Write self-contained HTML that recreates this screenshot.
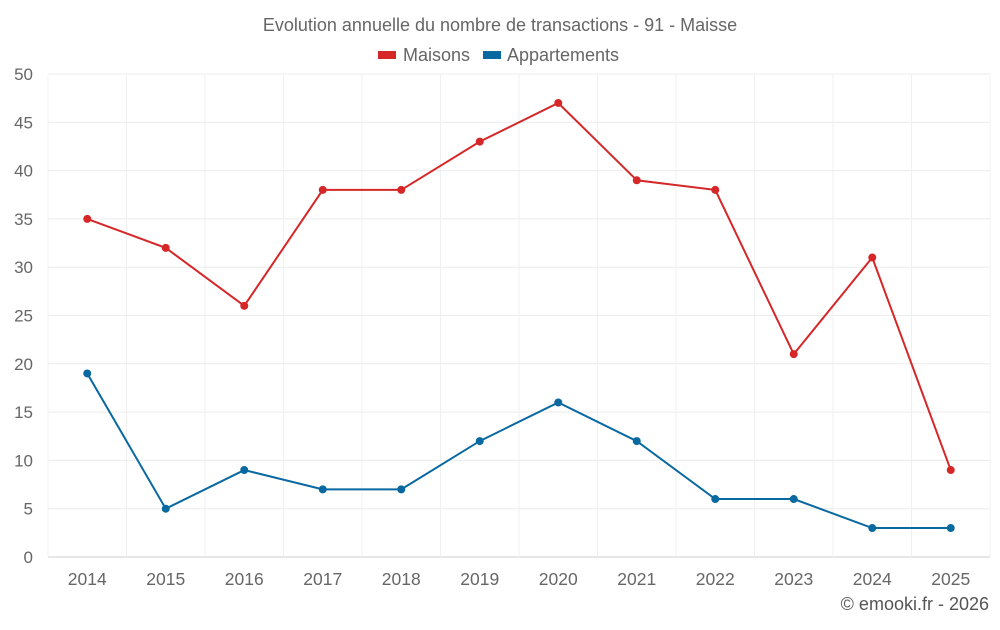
<!DOCTYPE html>
<html><head><meta charset="utf-8"><style>
body{margin:0;background:#fff;font-family:"Liberation Sans",sans-serif;}
svg text{font-family:"Liberation Sans",sans-serif;}
</style></head><body>
<svg id="chart" width="1000" height="625" xmlns="http://www.w3.org/2000/svg">
<text x="500" y="31" text-anchor="middle" font-size="18" fill="#666">Evolution annuelle du nombre de transactions - 91 - Maisse</text>
<g>
<g><rect x="378" y="51" width="18" height="8" fill="#d62728"/><text x="403" y="61" font-size="18" fill="#666">Maisons</text></g>
<g><rect x="483" y="51" width="18" height="8" fill="#0868a0"/><text x="507" y="61" font-size="18" fill="#666">Appartements</text></g>
</g>
<g id="grid"></g>
<g id="axes"></g>
<g id="series"></g>
<text x="989" y="610" text-anchor="end" font-size="18" fill="#555">© emooki.fr - 2026</text>
</svg>
<script>
const categories=["2014","2015","2016","2017","2018","2019","2020","2021","2022","2023","2024","2025"];
const maisons=[35,32,26,38,38,43,47,39,38,21,31,9];
const appartements=[19,5,9,7,7,12,16,12,6,6,3,3];
const yTicks=[0,5,10,15,20,25,30,35,40,45,50];
const NS="http://www.w3.org/2000/svg";
const L=48,R=990,T=74,B=557,yMax=50;
const band=(R-L)/categories.length;
const x=i=>L+band*(i+0.5);
const y=v=>B-(v/yMax)*(B-T);
function mk(tag,attrs,parent){const e=document.createElementNS(NS,tag);for(const k in attrs)e.setAttribute(k,attrs[k]);parent.appendChild(e);return e;}
const grid=document.getElementById('grid'),axes=document.getElementById('axes'),series=document.getElementById('series');
yTicks.forEach(t=>{
 const l=mk('line',{x1:L,x2:R,y1:y(t),y2:y(t),stroke:t===0?'#ccc':'#ececec','stroke-width':1},grid);
 
 
 const tx=mk('text',{x:L-15,y:y(t)+6,'text-anchor':'end','font-size':17,fill:'#666'},axes);
 tx.textContent=t;
 
 
});
for(let i=0;i<=categories.length;i++){
 const gx=L+band*i;
 const l=mk('line',{x1:gx,x2:gx,y1:T,y2:B,stroke:'#f0f0f0','stroke-width':1},grid);
 
 
}
categories.forEach((c,i)=>{
 const tx=mk('text',{x:x(i),y:585,'text-anchor':'middle','font-size':17.5,fill:'#666'},axes);
 tx.textContent=c;
 
 
});
function draw(vals,color,name){
 const p=mk('polyline',{points:vals.map((v,i)=>x(i)+','+y(v)).join(' '),fill:'none',stroke:color,'stroke-width':2},series);
 
 
 vals.forEach((v,i)=>{
  const c=mk('circle',{cx:x(i),cy:y(v),r:4,fill:color},series);
  
  
 });
}
draw(maisons,'#d62728','maisons');
draw(appartements,'#0868a0','appartements');
</script>
</body></html>
